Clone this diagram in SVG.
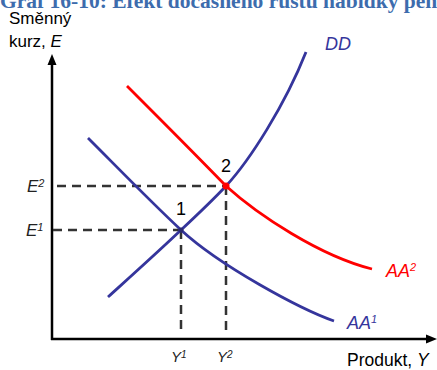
<svg xmlns="http://www.w3.org/2000/svg" width="437" height="370" viewBox="0 0 437 370">
<style>
.t{font-family:"Liberation Sans",Arial,sans-serif;fill:#000}
.ax{stroke:#000;stroke-width:2.5;fill:none}
.dash{stroke:#333;stroke-width:2.5;stroke-dasharray:9 6;fill:none}
.blue{stroke:#35359c;stroke-width:2.8;fill:none}
.red{stroke:#ff0000;stroke-width:2.8;fill:none}
.lab{font-family:"Liberation Sans",Arial,sans-serif;font-style:italic}
</style>
<rect width="437" height="370" fill="#fff"/>
<text x="0" y="8" font-family="Liberation Serif,'Times New Roman',serif" font-weight="bold" font-size="21.5" fill="#3d6cad">Graf 16-10: Efekt dočasného růstu nabídky peněz</text>
<g id="axes">
<line class="ax" x1="52" y1="62" x2="52" y2="340"/>
<line class="ax" x1="51" y1="339" x2="429" y2="339"/>
<polygon points="52,54 47.5,65 56.5,65" fill="#000"/>
<polygon points="437,339 426,334.5 426,343.5" fill="#000"/>
</g>
<g id="connectors">
<path class="dash" d="M57,186 H226 M53,230 H181 M181,230 V334 M226,186 V334"/>
<path id="DD" class="blue" d="M108,297 C140,268 160,250 181,230 C196,216 211,202 226,186 C250,160 285,105 306,52"/>
<path id="AA1" class="blue" d="M88,138 C119,169 150,201 181,230 C220,266 300,309 334,321"/>
<path id="AA2" class="red" d="M127,86 C160,119 194,153 226,186 C258,215 320,256 372,269"/>
</g>
<g id="point1"><circle cx="181" cy="230" r="2.5" fill="#2a2a70"/><text class="t" x="181" y="215" font-size="18" text-anchor="middle" fill="#222">1</text></g>
<g id="point2"><circle cx="226" cy="186" r="3.5" fill="#ff0000"/><text class="t" x="226" y="172" font-size="18" text-anchor="middle" fill="#222">2</text></g>
<g id="ylabel"><text class="t" x="9" y="24" font-size="17">Směnný</text><text class="t" x="9" y="47" font-size="17">kurz, <tspan font-style="italic">E</tspan></text></g>
<g id="xlabel"><text class="t" x="347" y="366" font-size="17.5">Produkt, <tspan font-style="italic">Y</tspan></text></g>
<g id="e2"><text class="lab" x="27" y="192" font-size="17" fill="#222">E<tspan font-size="11" dy="-5">2</tspan></text></g>
<g id="e1"><text class="lab" x="26" y="236" font-size="17" fill="#222">E<tspan font-size="11" dy="-5">1</tspan></text></g>
<g id="y1"><text class="lab" x="171" y="362" font-size="15" fill="#222">Y<tspan font-size="10" dy="-4">1</tspan></text></g>
<g id="y2"><text class="lab" x="217" y="362" font-size="15" fill="#222">Y<tspan font-size="10" dy="-4">2</tspan></text></g>
<g id="ddlabel"><text class="lab" x="325" y="50" font-size="18" fill="#35359c">DD</text></g>
<g id="aa2label"><text class="lab" x="386" y="277" font-size="18" fill="#ff0000">AA<tspan font-size="11" dy="-6">2</tspan></text></g>
<g id="aa1label"><text class="lab" x="347" y="329" font-size="18" fill="#35359c">AA<tspan font-size="11" dy="-6">1</tspan></text></g>
</svg>
